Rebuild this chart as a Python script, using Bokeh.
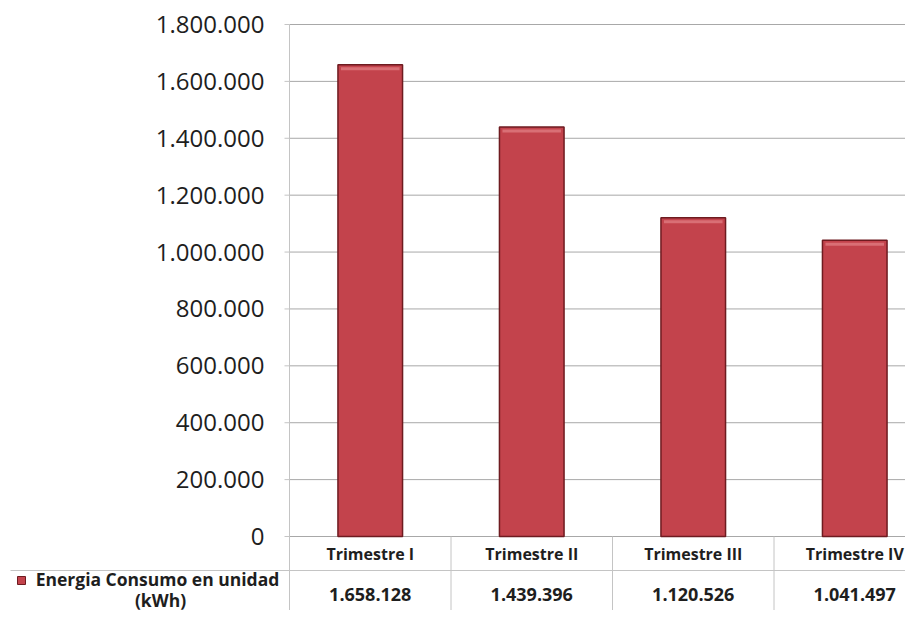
import numpy as np
from bokeh.plotting import figure
from bokeh.models import Range1d
from bokeh.embed import file_html
from bokeh.resources import INLINE
from bokeh.core.properties import value

# ---------------- data ----------------
categories = ["Trimestre I", "Trimestre II", "Trimestre III", "Trimestre IV"]
consumo_kwh = [1658128, 1439396, 1120526, 1041497]
y_ticks = [0, 200000, 400000, 600000, 800000, 1000000, 1200000, 1400000, 1600000, 1800000]
series_name = "Energia Consumo en unidad"
series_unit = "(kWh)"

# ---------------- layout / style ----------------
W, H = 905, 610
AXIS_PX = 289             # px of the value axis (left edge of the plot area)
ZERO_PX = 536             # px row of value 0
TOP_PX = 24               # px row of the top tick
CAT_PX = 161.5            # px per category column
Y_MAX = y_ticks[-1]
PX_PER_Y = (ZERO_PX - TOP_PX) / Y_MAX

FONT = "Open Sans"
BAR_FILL = "#C3434C"
BAR_LINE = "#6E1B20"
BAR_HILITE = "#DE7A80"
TEXT_COL = "#1E1E1E"
GRID_COL = "#A8A8A8"
AXIS_COL = "#C4C4C4"
BAR_W = 0.4


def px2x(px):
    """pixel column -> data x (categories at 0.5, 1.5, ...)"""
    return (px - AXIS_PX) / CAT_PX


def py(px):
    """pixel row (from top) -> data y"""
    return (ZERO_PX - px) / PX_PER_Y


n = len(categories)
xs = [i + 0.5 for i in range(n)]
value_labels = [f"{v:,}".replace(",", ".") for v in consumo_kwh]
tick_labels = [f"{t:,}".replace(",", ".") for t in y_ticks]
X_END = px2x(W)

p = figure(width=W, height=H,
           x_range=Range1d(px2x(0), X_END), y_range=Range1d(py(H), py(0)),
           output_backend="svg", toolbar_location=None,
           min_border=0, x_axis_location=None, y_axis_location=None)
p.outline_line_color = None
p.grid.visible = False
p.background_fill_color = "white"
p.border_fill_color = "white"

nt = len(y_ticks)
# horizontal gridlines
p.segment(x0=[0] * nt, y0=y_ticks, x1=[X_END] * nt, y1=y_ticks,
          line_color=GRID_COL, line_width=1)
# value axis: line, tick marks, labels
p.segment(x0=[0], y0=[py(H)], x1=[0], y1=[Y_MAX], line_color=AXIS_COL, line_width=1)
p.segment(x0=[px2x(AXIS_PX - 5)] * nt, y0=y_ticks, x1=[0] * nt, y1=y_ticks,
          line_color=AXIS_COL, line_width=1)
p.text(x=[px2x(264)] * nt, y=y_ticks, text=tick_labels,
       text_font=value(FONT), text_font_size="24px", text_color=TEXT_COL,
       text_align="right", text_baseline="middle")

# bars
p.vbar(x=xs, top=consumo_kwh, width=BAR_W,
       fill_color=BAR_FILL, line_color=BAR_LINE, line_width=1.5)
# bevel highlight just below each bar top
hl_top = [v - 2.5 / PX_PER_Y for v in consumo_kwh]
hl_bot = [v - 5.5 / PX_PER_Y for v in consumo_kwh]
p.vbar(x=xs, top=hl_top, bottom=hl_bot, width=BAR_W - 6 / CAT_PX,
       fill_color=BAR_HILITE, fill_alpha=0.8, line_color=None)

# ---------------- data table (below the zero line) ----------------
p.segment(x0=list(range(1, n)), y0=[py(H)] * (n - 1),
          x1=list(range(1, n)), y1=[0] * (n - 1),
          line_color=AXIS_COL, line_width=1)
p.segment(x0=[px2x(10)], y0=[py(570)], x1=[X_END], y1=[py(570)],
          line_color=AXIS_COL, line_width=1)

p.text(x=xs, y=[py(553)] * n, text=categories,
       text_font=value(FONT), text_font_style="bold", text_font_size="16px",
       text_align="center", text_baseline="middle", text_color=TEXT_COL)
p.text(x=xs, y=[py(594)] * n, text=value_labels,
       text_font=value(FONT), text_font_style="bold", text_font_size="18px",
       text_align="center", text_baseline="middle", text_color=TEXT_COL)

# series label cell
p.scatter(x=[px2x(21)], y=[py(580)], marker="square", size=8,
          fill_color=BAR_FILL, line_color=BAR_LINE, line_width=1)
p.text(x=[px2x(157)], y=[py(578)], text=[series_name],
       text_font=value(FONT), text_font_style="bold", text_font_size="17.5px",
       text_align="center", text_baseline="middle", text_color=TEXT_COL)
p.text(x=[px2x(160)], y=[py(599)], text=[series_unit],
       text_font=value(FONT), text_font_style="bold", text_font_size="17.5px",
       text_align="center", text_baseline="middle", text_color=TEXT_COL)

open("out.html", "w").write(file_html(p, INLINE))
